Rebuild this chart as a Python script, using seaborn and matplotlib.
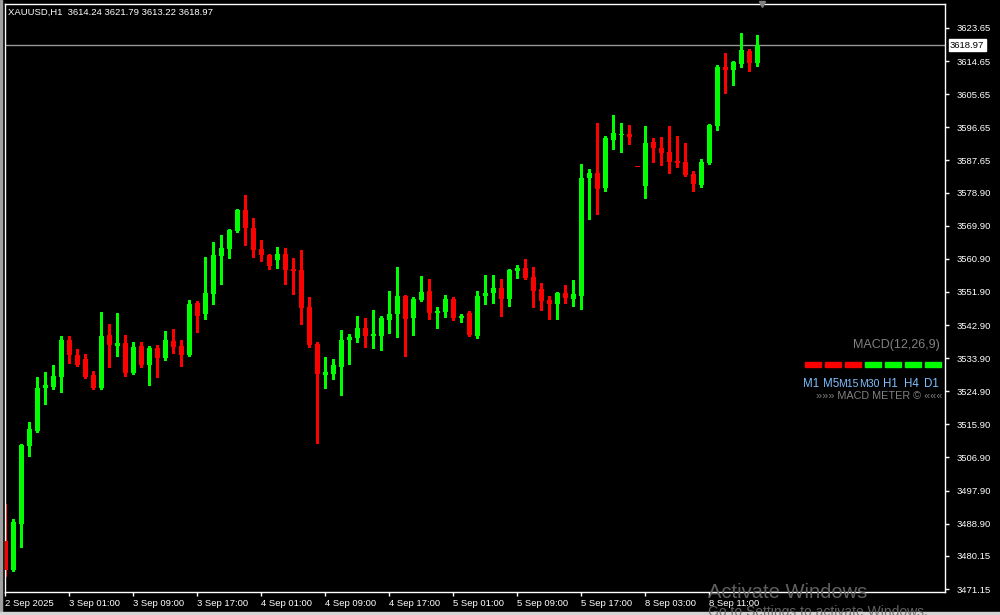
import matplotlib
matplotlib.use("Agg")
import matplotlib.pyplot as plt
import seaborn as sns
import numpy as np

# ---------------- data (XAUUSD, H1) ----------------
opens = [3484.20, 3476.32, 3488.90, 3510.02, 3514.10, 3525.79, 3526.06, 3528.78, 3538.83, 3534.76,
         3533.67, 3529.32, 3525.79, 3540.19, 3537.20, 3538.02, 3529.86, 3537.20, 3532.04, 3536.66,
         3533.94, 3538.56, 3537.20, 3534.76, 3548.89, 3545.90, 3551.34, 3561.67, 3563.57, 3568.46,
         3574.17, 3569.28, 3563.57, 3561.94, 3560.58, 3562.21, 3558.13, 3557.86, 3547.80, 3537.75,
         3529.32, 3529.59, 3531.50, 3538.83, 3539.38, 3542.10, 3539.92, 3539.92, 3544.27, 3545.90,
         3550.79, 3544.81, 3549.71, 3552.15, 3546.17, 3546.45, 3549.98, 3544.81, 3546.17, 3539.92,
         3550.79, 3551.61, 3552.97, 3549.98, 3557.59, 3558.40, 3555.96, 3552.70, 3549.71, 3548.62,
         3551.61, 3549.98, 3550.79, 3582.87, 3584.23, 3580.15, 3593.20, 3594.56, 3594.83, 3585.86,
         3580.69, 3592.65, 3591.02, 3589.93, 3587.49, 3587.22, 3583.95, 3580.97, 3586.94, 3597.00,
         3613.04, 3612.22, 3613.85, 3617.39, 3614.24]
highs = [3494.26, 3490.18, 3510.57, 3516.55, 3528.78, 3530.14, 3532.04, 3539.92, 3539.92, 3536.39,
         3535.03, 3530.41, 3546.45, 3543.18, 3546.17, 3540.19, 3538.29, 3538.29, 3537.20, 3537.48,
         3541.28, 3541.82, 3538.83, 3549.71, 3549.44, 3561.40, 3565.47, 3567.37, 3569.01, 3574.40,
         3578.25, 3572.00, 3566.02, 3562.21, 3564.11, 3563.84, 3561.12, 3563.30, 3550.52, 3538.29,
         3534.21, 3533.67, 3541.55, 3540.47, 3545.36, 3544.81, 3546.99, 3545.36, 3552.15, 3558.68,
         3551.07, 3550.52, 3556.23, 3555.41, 3547.80, 3551.07, 3550.52, 3545.90, 3546.72, 3552.15,
         3556.50, 3556.50, 3555.41, 3558.13, 3559.22, 3560.85, 3558.68, 3554.33, 3550.79, 3551.80,
         3553.78, 3555.14, 3586.67, 3585.31, 3597.82, 3594.28, 3599.99, 3597.82, 3597.27, 3585.86,
         3597.00, 3593.74, 3594.01, 3597.00, 3594.28, 3592.38, 3584.77, 3588.03, 3597.50, 3613.58,
         3616.84, 3614.67, 3622.28, 3617.93, 3621.79]
lows = [3474.69, 3476.05, 3482.65, 3507.30, 3513.90, 3521.44, 3525.52, 3524.70, 3532.58, 3531.80,
        3528.60, 3525.60, 3525.60, 3531.50, 3534.49, 3529.05, 3529.59, 3531.50, 3526.60, 3528.78,
        3533.40, 3535.30, 3531.77, 3534.60, 3541.01, 3544.54, 3548.62, 3554.06, 3561.12, 3568.19,
        3564.66, 3561.39, 3560.31, 3558.13, 3558.40, 3554.06, 3551.34, 3543.18, 3537.00, 3510.84,
        3525.79, 3528.23, 3523.89, 3532.31, 3538.29, 3536.93, 3536.66, 3536.12, 3540.74, 3539.65,
        3534.49, 3540.19, 3549.44, 3544.54, 3542.10, 3545.09, 3544.27, 3543.73, 3539.92, 3539.38,
        3548.62, 3548.89, 3545.36, 3548.08, 3555.69, 3555.41, 3547.80, 3546.99, 3544.54, 3544.54,
        3548.89, 3548.08, 3547.26, 3571.72, 3573.08, 3579.33, 3590.75, 3589.93, 3592.11, 3585.86,
        3577.43, 3587.22, 3586.40, 3584.23, 3585.86, 3583.41, 3579.33, 3580.42, 3586.67, 3595.91,
        3605.97, 3608.15, 3613.04, 3611.95, 3613.22]
closes = [3476.32, 3489.37, 3510.29, 3514.64, 3525.79, 3526.60, 3529.05, 3538.83, 3534.76, 3532.04,
          3528.78, 3525.79, 3539.92, 3537.48, 3538.02, 3529.86, 3536.93, 3532.04, 3536.66, 3533.94,
          3538.83, 3536.93, 3534.76, 3548.62, 3545.36, 3551.61, 3561.94, 3563.84, 3568.73, 3574.17,
          3569.28, 3563.30, 3561.94, 3558.95, 3562.21, 3557.86, 3557.59, 3547.53, 3537.48, 3529.59,
          3530.14, 3532.04, 3538.83, 3539.65, 3542.10, 3539.92, 3540.47, 3544.81, 3545.90, 3550.79,
          3544.54, 3549.98, 3551.88, 3546.17, 3546.72, 3549.98, 3544.81, 3545.36, 3540.19, 3550.79,
          3551.61, 3552.97, 3549.98, 3557.86, 3558.40, 3555.69, 3552.15, 3549.44, 3548.62, 3551.61,
          3550.25, 3551.34, 3582.87, 3584.23, 3579.88, 3593.74, 3595.10, 3594.83, 3594.01, 3585.86,
          3592.38, 3591.02, 3589.66, 3587.22, 3586.94, 3583.68, 3581.24, 3587.22, 3597.27, 3613.04,
          3612.22, 3614.40, 3617.66, 3614.13, 3618.97]

time_labels = ["2 Sep 2025", "3 Sep 01:00", "3 Sep 09:00", "3 Sep 17:00", "4 Sep 01:00",
               "4 Sep 09:00", "4 Sep 17:00", "5 Sep 01:00", "5 Sep 09:00", "5 Sep 17:00",
               "8 Sep 03:00", "8 Sep 11:00"]
price_ticks = [3623.65, 3614.65, 3605.65, 3596.65, 3587.65, 3578.90, 3569.90, 3560.90, 3551.90,
               3542.90, 3533.90, 3524.90, 3515.90, 3506.90, 3497.90, 3488.90, 3480.15, 3471.15]
last_price = 3618.97
header = "XAUUSD,H1  3614.24 3621.79 3613.22 3618.97"
meter_tf = ["M1", "M5", "M15", "M30", "H1", "H4", "D1"]
meter_state = ["down", "down", "down", "up", "up", "up", "up"]

# ---------------- style ----------------
sns.set_theme(style="dark")
plt.rcParams["font.family"] = ["Liberation Sans", "DejaVu Sans"]
plt.rcParams["axes.facecolor"] = "black"
plt.rcParams["figure.facecolor"] = "black"

BULL = "#00ff00"
BEAR = "#ff0000"
W, H = 1000, 615

fig = plt.figure(figsize=(W / 100, H / 100), dpi=100)
fig.patch.set_facecolor("black")
ax = fig.add_axes([5 / W, (H - 592) / H, 940 / W, (592 - 4) / H])
ax.set_facecolor("black")

n = len(opens)
idx = np.arange(n)
o = np.array(opens); h = np.array(highs); l = np.array(lows); c = np.array(closes)
colors = np.where(c > o, BULL, BEAR)

# wicks
ax.vlines(idx, l, h, colors=colors, linewidth=1.0, antialiased=False, zorder=2)
# bodies
body_bottom = np.minimum(o, c)
body_h = np.maximum(np.abs(c - o), 0.28)
ax.bar(idx, body_h, bottom=body_bottom, width=0.6, color=colors, linewidth=0,
       antialiased=False, zorder=3)

ax.set_xlim(-0.04, -0.04 + 940 / 8)
ax.set_ylim(3470.34, 3630.16)

# current price line
ax.axhline(last_price, color="#969696", linewidth=1.0, zorder=1)

# right price axis
ax.yaxis.tick_right()
ax.set_yticks(price_ticks)
ax.set_yticklabels([f"{v:.2f}" for v in price_ticks])
ax.tick_params(axis="y", which="both", right=True, left=False, direction="out",
               length=3, width=1, color="white", labelcolor="white", labelsize=6.8, pad=5)

# time axis
ax.set_xticks(idx[::8][:len(time_labels)])
ax.set_xticklabels(time_labels, ha="left")
ax.tick_params(axis="x", which="both", bottom=True, direction="out", length=3, width=1,
               color="white", labelcolor="white", labelsize=6.8, pad=2)
for lab in ax.get_xticklabels():
    lab.set_horizontalalignment("left")

for s in ax.spines.values():
    s.set_color("white")
    s.set_linewidth(1.0)
ax.grid(False)

# last price box on the scale
ax.annotate(f"{last_price:.2f}", xy=(1.0, last_price), xycoords=("axes fraction", "data"),
            xytext=(5, 0), textcoords="offset pixels", ha="left", va="center",
            fontsize=6.8, color="black",
            bbox=dict(boxstyle="square,pad=0.15", fc="white", ec="white"),
            annotation_clip=False)

# header
fig.text(8 / W, 1 - 12 / H, header, color="white", fontsize=6.8, ha="left", va="center")

# shift marker
ax.plot([757 / 940], [1.0], marker="v", color="#808080", markersize=5,
        transform=ax.transAxes, clip_on=False, zorder=5)

# MACD meter
fig.text(940 / W, 1 - 345 / H, "MACD(12,26,9)", color="#808080", fontsize=9,
         ha="right", va="center")
label_centers = [811.5, 831.5, 848.5, 869, 890.5, 911, 931]
for k, (tf, st) in enumerate(zip(meter_tf, meter_state)):
    x0 = 805 + 20 * k
    col = BULL if st == "up" else BEAR
    fig.patches.append(plt.Rectangle((x0 / W, 1 - 367 / H), 16 / W, 5 / H,
                                     transform=fig.transFigure, color=col, figure=fig))
    fig.text(label_centers[k] / W, 1 - 384 / H, tf, color="#7fbfff",
             fontsize=7.6 if len(tf) > 2 else 8.3, ha="center", va="center")
fig.text(942 / W, 1 - 396 / H, "»»» MACD METER © «««", color="#808080", fontsize=7.8,
         ha="right", va="center")

# window border strips
fig.patches.append(plt.Rectangle((0, 0), 2 / W, 1, transform=fig.transFigure,
                                 color="#a0a0a0", figure=fig))
fig.patches.append(plt.Rectangle((0, 0), 1, 3 / H, transform=fig.transFigure,
                                 color="#d4d4d4", figure=fig))

# OS watermark
fig.text(708 / W, 1 - 592 / H, "Activate Windows", color="#6a6a6a", fontsize=14.5,
         ha="left", va="center", alpha=0.9)
fig.text(708 / W, 1 - 612 / H, "Go to Settings to activate Windows.", color="#6a6a6a",
         fontsize=10, ha="left", va="center", alpha=0.9)

fig.savefig("out.png", dpi=100, facecolor="black")
